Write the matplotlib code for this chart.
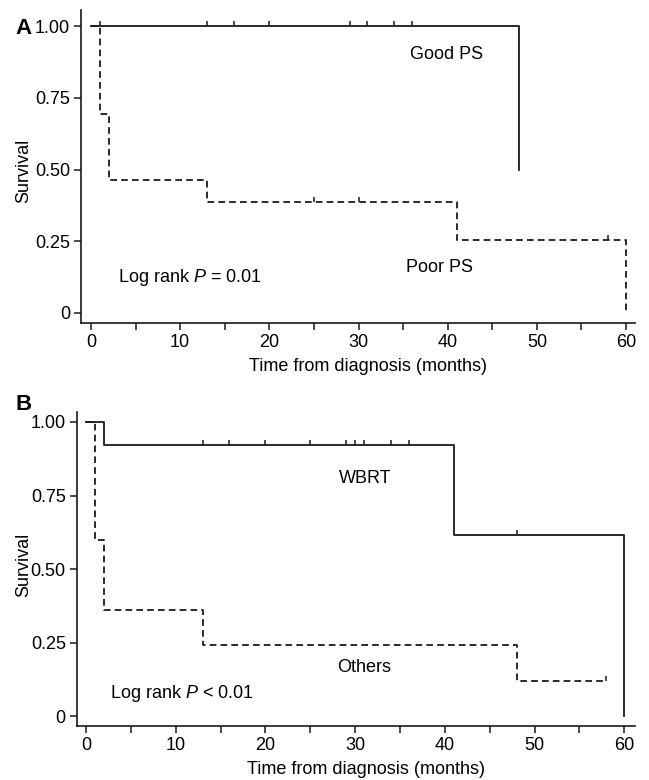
import matplotlib
matplotlib.use("Agg")
import matplotlib.pyplot as plt
import numpy as np

plt.rcParams["font.family"] = ["Liberation Sans", "DejaVu Sans"]
plt.rcParams["mathtext.fontset"] = "custom"
plt.rcParams["mathtext.rm"] = "Liberation Sans"
plt.rcParams["mathtext.it"] = "Liberation Sans:italic"

# Panel A — performance status
good_t = [0, 48]
good_s = [1.0, 0.5]
good_cens = [1, 13, 16, 20, 29, 31, 34, 36]

poor_t = [0, 1, 2, 13, 41, 60]
poor_s = [1.0, 0.692, 0.462, 0.385, 0.256, 0.0]
poor_cens = [25, 30, 58]

# Panel B — treatment
wbrt_t = [0, 2, 41, 60]
wbrt_s = [1.0, 0.923, 0.615, 0.0]
wbrt_cens = [13, 16, 20, 25, 29, 30, 31, 34, 36, 48]

oth_t = [0, 1, 2, 13, 48, 58]
oth_s = [1.0, 0.60, 0.36, 0.24, 0.12, 0.12]
oth_cens = [58]

yticks = [0, 0.25, 0.50, 0.75, 1.00]
ytick_labels = ["0", "0.25", "0.50", "0.75", "1.00"]

INK = "#1a1a1a"
FS = 13
censor_marker = [(0, 0), (0, 1)]


def surv_at(t, times, surv):
    idx = np.searchsorted(times, t, side="right") - 1
    return np.asarray(surv)[idx]


def km_curve(ax, times, surv, cens, ls):
    if ls == "--":
        ax.step(times, surv, where="post", color=INK, lw=1.3,
                ls="--", dashes=(3.7, 2.3))
    else:
        ax.step(times, surv, where="post", color=INK, lw=1.3)
    cy = [surv_at(c, times, surv) for c in cens]
    ax.plot(cens, cy, ls="none", marker=censor_marker, ms=7,
            mec=INK, mew=1.1)


def style_axes(ax, xlim, ylim):
    ax.set_xlim(*xlim)
    ax.set_ylim(*ylim)
    ax.spines["top"].set_visible(False)
    ax.spines["right"].set_visible(False)
    for s in ("left", "bottom"):
        ax.spines[s].set_linewidth(1.2)
        ax.spines[s].set_color(INK)
    ax.set_xticks(range(0, 61, 10))
    ax.set_xticks(range(5, 60, 10), minor=True)
    ax.set_yticks(yticks)
    ax.set_yticklabels(ytick_labels)
    ax.tick_params(which="both", direction="out", length=5, width=1.1,
                   color=INK, labelsize=FS, pad=3)
    ax.set_xlabel("Time from diagnosis (months)", fontsize=FS)


fig = plt.figure(figsize=(6.49, 7.80), dpi=100)

# --- A
ax1 = fig.add_axes([0.1248, 0.5859, 0.8536, 0.4013])
km_curve(ax1, poor_t, poor_s, poor_cens, "--")
km_curve(ax1, good_t, good_s, good_cens, "-")
style_axes(ax1, (-1.12, 61.0), (-0.035, 1.056))
ax1.xaxis.set_label_coords(0.518, -0.112)
ax1.text(39.9, 0.90, "Good PS", fontsize=FS, ha="center", va="center")
ax1.text(39.1, 0.16, "Poor PS", fontsize=FS, ha="center", va="center")
ax1.text(3.0, 0.125, "Log rank $P$ = 0.01", fontsize=FS,
         ha="left", va="center")
fig.text(0.024, 1 - 29 / 780, "A", fontsize=16, fontweight="bold",
         ha="left", va="center")
fig.text(0.037, 1 - 171 / 780, "Survival", fontsize=FS, rotation=90,
         ha="center", va="center")

# --- B
ax2 = fig.add_axes([0.1186, 0.0692, 0.8598, 0.4026])
km_curve(ax2, oth_t, oth_s, oth_cens, "--")
km_curve(ax2, wbrt_t, wbrt_s, wbrt_cens, "-")
style_axes(ax2, (-1.0, 61.2), (-0.034, 1.034))
ax2.xaxis.set_label_coords(0.518, -0.112)
ax2.text(31.1, 0.807, "WBRT", fontsize=FS, ha="center", va="center")
ax2.text(31.0, 0.166, "Others", fontsize=FS, ha="center", va="center")
ax2.text(2.7, 0.075, "Log rank $P$ < 0.01", fontsize=FS,
         ha="left", va="center")
fig.text(0.024, 1 - 404 / 780, "B", fontsize=16, fontweight="bold",
         ha="left", va="center")
fig.text(0.037, 1 - 565 / 780, "Survival", fontsize=FS, rotation=90,
         ha="center", va="center")

fig.savefig("out.png", dpi=100)
